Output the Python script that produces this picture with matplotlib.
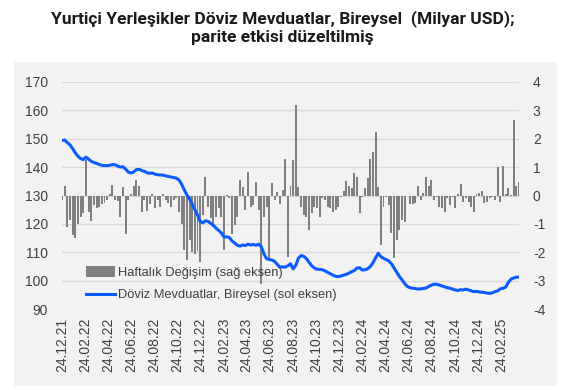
import matplotlib
matplotlib.use("Agg")
import matplotlib.pyplot as plt
from matplotlib.patches import Rectangle
from matplotlib.lines import Line2D
import pandas as pd
import numpy as np

plt.rcParams["axes.unicode_minus"] = False

# ---------------- data ----------------
start_date = "2021-12-24"
n_weeks = 173

weekly_change = [
    -0.15, 0.33, -1.1, -0.87, -1.4, -1.5, -1.0, -0.75, -0.6, 1.24,
    -0.57, -0.9, -0.35, -0.45, -0.4, -0.3, -0.25, -0.16, 0.07, 0.38,
    -0.16, -0.2, -0.75, 0.3, -1.35, -0.15, 0.07, 0.33, 0.56, 0.33,
    -0.57, -0.15, -0.55, -0.3, 0.04, -0.45, -0.15, -0.4, 0.07, -0.15,
    -0.25, -0.4, -0.15, -0.1, -0.57, -1.0, -1.9, -2.25, -1.57, -2.0,
    -2.05, -1.95, -2.33, -0.7, 0.66, -0.4, -0.8, -1.1, -0.75, -0.45,
    -0.75, -1.9, 0.01, -0.1, -1.35, -1.05, -0.75, 0.56, 0.3, -0.5,
    0.83, -0.4, -0.35, 0.48, -0.5, -3.1, -0.75, -0.4, -2.27, 0.45,
    -0.15, 0.13, -0.3, 0.2, 1.27, -2.15, 0.33, 1.24, 3.17,
    0.3, -0.4, -0.7, -0.75, -1.2, -0.6, -0.4, -0.45, -0.75, -0.1,
    -0.16, -0.4, -0.45, -0.57, -0.52, -0.4, -0.05, 0.17, 0.5, 0.33,
    0.25, 0.8, 0.65, -0.63, -0.05, 0.25, 0.6, 1.27, 1.53, 2.24,
    0.3, -1.75, -0.4, -0.05, -0.35, -1.33, -2.2, -1.57, -1.2, -0.87,
    -0.92, 0.0, -0.3, -0.3, -0.25, 0.33, -0.16, 0.1, 0.65, 0.35,
    0.56, -0.16, -0.05, -0.4, -0.45, -0.57, -0.1, -0.33, -0.07, -0.45,
    0.07, 0.4, -0.22, -0.1, -0.22, -0.4, -0.57, 0.07, 0.1, 0.15,
    -0.25, -0.22, -0.1, -0.05, -0.16, 1.0, -0.22, 1.03, 0.05, 0.27,
    0.02, 2.65, 0.33, 0.48,
]

fx_deposits = [
    149.3, 149.5, 148.6, 147.8, 146.5, 145.0, 143.8, 143.0, 142.6, 143.5,
    142.8, 142.0, 141.6, 141.3, 140.9, 140.6, 140.5, 140.5, 140.6, 140.9,
    140.8, 140.3, 140.0, 140.1, 139.2, 138.2, 137.9, 138.3, 139.1, 139.2,
    138.8, 138.5, 138.0, 137.8, 137.9, 137.5, 137.3, 137.2, 137.2, 136.9,
    136.7, 136.5, 136.3, 136.1, 135.5, 134.0, 132.0, 130.2, 128.8, 127.0,
    125.0, 123.2, 120.9, 120.4, 121.1, 120.9, 120.2, 119.5, 118.5, 117.7,
    116.8, 115.4, 115.5, 115.2, 114.0, 113.3, 112.5, 112.2, 112.6, 112.4,
    112.9, 112.6, 112.8, 112.5, 112.9, 112.0, 109.5, 107.8, 107.5, 107.3,
    106.9, 105.8, 104.8, 104.9, 104.8, 105.3, 106.0, 104.2, 105.5, 108.0,
    108.9, 108.6, 107.8, 106.5, 105.3, 104.5, 104.1, 104.0, 103.9, 103.5,
    103.0, 102.5, 102.0, 101.6, 101.5, 101.7, 102.0, 102.3, 102.7, 103.2,
    103.6, 104.5, 104.6, 103.8, 103.9, 104.2, 105.0, 106.3, 108.0, 109.7,
    108.5, 107.9, 107.5, 107.0, 106.0, 104.5, 103.0, 101.5, 100.3, 99.0,
    98.0, 97.6, 97.4, 97.3, 97.1, 97.2, 97.3, 97.5, 98.0, 98.5,
    98.8, 98.8, 98.5, 98.2, 97.9, 97.6, 97.4, 97.1, 96.8, 96.6,
    96.9, 96.8, 97.1, 96.8, 96.5, 96.2, 96.3, 96.1, 96.0, 95.9,
    95.7, 95.6, 95.8, 96.2, 96.5, 97.2, 97.4, 97.8, 99.5, 100.6,
    101.0, 101.3, 101.3,
]

tick_labels = [
    "24.12.21", "24.02.22", "24.04.22", "24.06.22", "24.08.22", "24.10.22",
    "24.12.22", "24.02.23", "24.04.23", "24.06.23", "24.08.23", "24.10.23",
    "24.12.23", "24.02.24", "24.04.24", "24.06.24", "24.08.24", "24.10.24",
    "24.12.24", "24.02.25",
]

title_text = "Yurtiçi Yerleşikler Döviz Mevduatlar, Bireysel  (Milyar USD);\nparite etkisi düzeltilmiş"
label_bars = "Haftalık Değişim (sağ eksen)"
label_line = "Döviz Mevduatlar, Bireysel (sol eksen)"

# ---------------- figure ----------------
dates = pd.date_range(start_date, periods=n_weeks, freq="7D")
tick_dates = pd.to_datetime(tick_labels, format="%d.%m.%y")

W, H = 565, 390
fig = plt.figure(figsize=(W / 100, H / 100), dpi=100)
fig.patch.set_facecolor("white")

panel_col = "#f2f2f2"
fig.patches.append(Rectangle((14 / W, 1 - 386 / H), (557 - 14) / W, (386 - 62) / H,
                             transform=fig.transFigure, facecolor=panel_col,
                             edgecolor="none", zorder=-5))

ax_pos = [62 / W, 1 - 309.3 / H, (519 - 62) / W, (309.3 - 81.7) / H]
ax = fig.add_axes(ax_pos)     # left axis: line
ax2 = ax.twinx()              # right axis: bars

ax2.set_zorder(1)
ax.set_zorder(2)
ax.patch.set_visible(False)
ax2.patch.set_visible(True)
ax2.set_facecolor(panel_col)

tick_col = "#404040"
font_ticks = "Liberation Sans"
bar_col = "#7f7f7f"
line_col = "#0a5cff"

ax2.bar(dates, weekly_change, width=5.2, color=bar_col, zorder=2)
ax2.set_ylim(-4, 4)
ax2.set_yticks(np.arange(-4, 5, 1))
ax2.set_axisbelow(True)
ax2.grid(True, axis="both", color="#d9d9d9", linewidth=1.0)

ax.plot(dates, fx_deposits, color=line_col, linewidth=2.2, zorder=3,
        solid_joinstyle="round")
ax.set_ylim(90, 170)
ax.set_yticks(np.arange(90, 171, 10))
ax.set_xlim(dates[0], dates[-1])
ax.set_xticks(tick_dates)
ax.set_xticklabels(tick_labels, rotation=90)

for a in (ax, ax2):
    for s in a.spines.values():
        s.set_visible(False)
    a.tick_params(length=0, colors=tick_col, labelsize=10)
    for lab in a.get_yticklabels() + a.get_xticklabels():
        lab.set_fontfamily(font_ticks)

ax.tick_params(axis="y", pad=10)
ax2.tick_params(axis="y", pad=10)
ax.tick_params(axis="x", pad=6)

# legend
handles = [Rectangle((0, 0), 1, 1, facecolor=bar_col, edgecolor="none"),
           Line2D([0], [0], color=line_col, linewidth=2.2)]
leg = ax.legend(handles, [label_bars, label_line], loc="lower left",
                bbox_to_anchor=(0.042, 0.012), frameon=False,
                prop={"family": font_ticks, "size": 9.3},
                handlelength=2.2, handleheight=0.85, handletextpad=0.25,
                labelspacing=0.75, borderaxespad=0)
for t in leg.get_texts():
    t.set_color(tick_col)

fig.text(0.5, 0.975, title_text, ha="center", va="top", fontsize=12.5,
         fontweight="bold", family="Roboto", color="#1a1a1a", linespacing=1.3)

fig.savefig("out.png", dpi=100, facecolor="white")
